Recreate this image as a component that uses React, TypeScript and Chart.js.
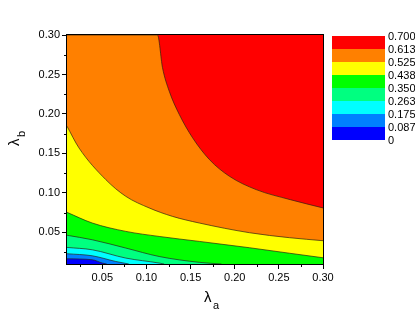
import React, { useEffect, useRef } from "react";
import { Chart, registerables } from "chart.js";

Chart.register(...registerables);

// Axis ticks
const xTicks = [0.05, 0.1, 0.15, 0.2, 0.25, 0.3];
const yTicks = [0.05, 0.1, 0.15, 0.2, 0.25, 0.3];
const xMinor = [0.025, 0.075, 0.125, 0.175, 0.225, 0.275];
const yMinor = [0.025, 0.075, 0.125, 0.175, 0.225, 0.275];
const xRange = [0.01, 0.3];
const yRange = [0.01, 0.3];

// Colour-bar levels (top to bottom) and band colours
const levelLabels = ["0.700", "0.613", "0.525", "0.438", "0.350", "0.263", "0.175", "0.087", "0"];
const bandColors = ["#FF0000", "#FF8000", "#FFFF00", "#00FF00", "#00FF80", "#00FFFF", "#0080FF", "#0000FF"];

// Contour boundaries: [lambda_a, lambda_b]
const topEdge = [[0.01, 0.3], [0.3, 0.3]];
const line0613 = [[0.01, 0.3], [0.1125, 0.3], [0.1182, 0.2586], [0.1258, 0.2289], [0.1372, 0.1994], [0.1523, 0.1698], [0.1713, 0.1423], [0.194, 0.1211], [0.2243, 0.1042], [0.2629, 0.0915], [0.3, 0.081]];
const line0525 = [[0.01, 0.1845], [0.0235, 0.1571], [0.0539, 0.1169], [0.0766, 0.0957], [0.1031, 0.081], [0.1295, 0.0703], [0.1599, 0.0619], [0.2168, 0.0496], [0.2622, 0.0433], [0.3, 0.0395]];
const line0438 = [[0.01, 0.0754], [0.0386, 0.0619], [0.0766, 0.0513], [0.1144, 0.0449], [0.1599, 0.0386], [0.2167, 0.0306], [0.2622, 0.0236], [0.3, 0.0179]];
const line0350 = [[0.01, 0.0464], [0.0386, 0.0407], [0.0766, 0.0302], [0.1144, 0.0195], [0.1599, 0.0121], [0.185, 0.01]];
const line0263 = [[0.01, 0.031], [0.0386, 0.028], [0.0766, 0.0175], [0.1144, 0.0112], [0.12, 0.01]];
const line0175 = [[0.01, 0.023], [0.0386, 0.0204], [0.0652, 0.0132], [0.08, 0.01]];
const line0087 = [[0.01, 0.0166], [0.0386, 0.0154], [0.05, 0.0112], [0.055, 0.01]];

const FONT = "'Liberation Sans', Arial, Helvetica, sans-serif";

const toPts = (arr: number[][]) => arr.map(([x, y]) => ({ x, y }));

const decorPlugin = {
  id: "decor",
  afterDraw(chart: any) {
    const { ctx, chartArea, scales } = chart;
    const xs = scales.x;
    const ys = scales.y;
    ctx.save();
    // frame
    ctx.strokeStyle = "#000";
    ctx.lineWidth = 1;
    ctx.strokeRect(Math.round(chartArea.left) - 0.5, Math.round(chartArea.top) - 0.5, Math.round(chartArea.right - chartArea.left) + 1, Math.round(chartArea.bottom - chartArea.top) + 1);
    // minor ticks
    ctx.beginPath();
    xMinor.forEach((v) => {
      const px = Math.round(xs.getPixelForValue(v)) + 0.5;
      ctx.moveTo(px, chartArea.bottom);
      ctx.lineTo(px, chartArea.bottom + 3);
    });
    yMinor.forEach((v) => {
      const py = Math.round(ys.getPixelForValue(v)) + 0.5;
      ctx.moveTo(chartArea.left, py);
      ctx.lineTo(chartArea.left - 3, py);
    });
    ctx.stroke();

    // colour bar legend
    const bx = 332, by = 36, bw = 53, bh = 13;
    bandColors.forEach((c, i) => {
      ctx.fillStyle = c;
      ctx.fillRect(bx, by + i * bh, bw, bh);
    });
    ctx.fillStyle = "#000";
    ctx.font = `11px ${FONT}`;
    ctx.textAlign = "left";
    ctx.textBaseline = "middle";
    levelLabels.forEach((t, i) => {
      ctx.fillText(t, bx + bw + 3, by + i * bh + 1);
    });

    // axis titles
    ctx.textBaseline = "alphabetic";
    ctx.font = `15px ${FONT}`;
    ctx.fillText("\u03bb", 204, 302);
    ctx.font = `11px ${FONT}`;
    ctx.fillText("a", 213, 309);

    ctx.translate(19, 146);
    ctx.rotate(-Math.PI / 2);
    ctx.font = `15px ${FONT}`;
    ctx.fillText("\u03bb", 0, 0);
    ctx.font = `11px ${FONT}`;
    ctx.fillText("b", 9, 6);
    ctx.restore();
  },
};

export default function App() {
  const ref = useRef<HTMLCanvasElement | null>(null);
  useEffect(() => {
    if (!ref.current) return;
    const lineColor = "rgba(40,30,20,0.85)";
    const mk = (data: number[][], fillColor: string, border = true) => ({
      data: toPts(data),
      borderColor: border ? lineColor : "rgba(0,0,0,0)",
      borderWidth: border ? 0.8 : 0,
      backgroundColor: fillColor,
      fill: "start",
      pointRadius: 0,
      cubicInterpolationMode: "monotone",
    });
    const chart = new Chart(ref.current, {
      type: "line",
      data: {
        datasets: [
          mk(line0087, bandColors[7]),
          mk(line0175, bandColors[6]),
          mk(line0263, bandColors[5]),
          mk(line0350, bandColors[4]),
          mk(line0438, bandColors[3]),
          mk(line0525, bandColors[2]),
          mk(line0613, bandColors[1]),
          mk(topEdge, bandColors[0], false),
        ] as any,
      },
      options: {
        animation: false,
        responsive: false,
        events: [],
        layout: { padding: { left: 0, top: 35, right: 92, bottom: 0 } },
        plugins: { legend: { display: false }, tooltip: { enabled: false } },
        scales: {
          x: {
            type: "linear",
            min: xRange[0],
            max: xRange[1],
            afterBuildTicks: (s: any) => {
              s.ticks = xTicks.map((v) => ({ value: v }));
            },
            afterFit: (s: any) => {
              s.height = 47;
            },
            ticks: {
              callback: (v: any) => Number(v).toFixed(2),
              font: { size: 11, family: FONT },
              color: "#000",
              maxRotation: 0,
              autoSkip: false,
              padding: 2,
            },
            grid: { drawOnChartArea: false, tickLength: 5, tickColor: "#000", color: "#000" },
            border: { color: "#000", width: 1 },
          },
          y: {
            type: "linear",
            min: yRange[0],
            max: yRange[1],
            afterBuildTicks: (s: any) => {
              s.ticks = yTicks.map((v) => ({ value: v }));
            },
            afterFit: (s: any) => {
              s.width = 67;
            },
            ticks: {
              callback: (v: any) => Number(v).toFixed(2),
              font: { size: 11, family: FONT },
              color: "#000",
              autoSkip: false,
              padding: 2,
            },
            grid: { drawOnChartArea: false, tickLength: 5, tickColor: "#000", color: "#000" },
            border: { color: "#000", width: 1 },
          },
        },
      } as any,
      plugins: [decorPlugin],
    });
    return () => chart.destroy();
  }, []);
  return (
    <div style={{ position: "fixed", left: 0, top: 0, width: 415, height: 311, background: "#fff" }}>
      <canvas ref={ref} width={415} height={311} style={{ width: 415, height: 311, display: "block" }} />
    </div>
  );
}
